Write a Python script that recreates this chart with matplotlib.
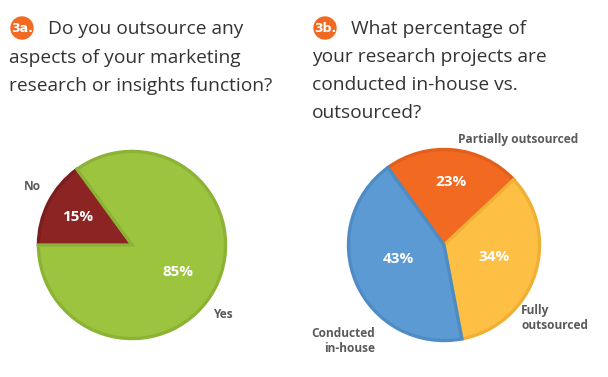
import matplotlib
matplotlib.use("Agg")
import matplotlib.pyplot as plt
from matplotlib.patches import Circle

W, H = 608, 377

# 3a: outsourcing any aspects
outsource_labels = ["No", "Yes"]
outsource_values = [15, 85]
outsource_colors = ["#8c2424", "#9dc43e"]
outsource_edges = ["#7a1e1e", "#8cb336"]

# 3b: in-house vs outsourced
share_labels = ["Partially outsourced", "Fully\noutsourced", "Conducted\nin-house"]
share_values = [23, 34, 43]
share_colors = ["#f26a22", "#fdc044", "#5b9ad3"]
share_edges = ["#e35f1c", "#f0b035", "#4f8cc6"]

TEXT = "#333333"
LABEL = "#5a5a5a"
BADGE = "#f26a22"
FONT = ["Open Sans", "DejaVu Sans"]

plt.rcParams["font.family"] = FONT

fig = plt.figure(figsize=(W / 100, H / 100), dpi=100)


def fx(px):
    return px / W


def fy(py):
    return 1 - py / H


def pie_axes(cx, cy, r):
    return fig.add_axes([fx(cx - r), fy(cy + r), 2 * r / W, 2 * r / H])


def finish(ax):
    # pie() resets the limits, so set them afterwards
    ax.set_xlim(-1, 1)
    ax.set_ylim(-1, 1)
    ax.set_aspect("equal")
    ax.axis("off")


def badge(x, y, text):
    fig.patches.append(Circle((x, H - y), 11, transform=None, color=BADGE,
                              figure=fig))
    fig.text(fx(x), fy(y), text, color="white", fontsize=9, fontweight="bold",
             ha="center", va="center", family=["Liberation Sans Narrow", "DejaVu Sans"])


# titles
title_kw = dict(fontsize=13.8, color=TEXT, va="center", ha="left")
badge(22, 28, "3a.")
fig.text(fx(48), fy(29), "Do you outsource any", **title_kw)
fig.text(fx(9), fy(58), "aspects of your marketing", **title_kw)
fig.text(fx(9), fy(86), "research or insights function?", **title_kw)

badge(325, 28, "3b.")
fig.text(fx(351), fy(29), "What percentage of", **title_kw)
fig.text(fx(312), fy(57), "your research projects are", **title_kw)
fig.text(fx(312), fy(85), "conducted in-house vs.", **title_kw)
fig.text(fx(312), fy(113), "outsourced?", **title_kw)

pct_kw = dict(color="white", fontsize=11, fontweight="bold", ha="center", va="center")
lab_kw = dict(color=LABEL, fontsize=8.6, fontweight="bold", va="center")


def to_data(px, py, cx, cy, r):
    return (px - cx) / r, (cy - py) / r


# left pie
cx1, cy1, r1 = 132, 245, 95
ax1 = pie_axes(cx1, cy1, r1)
wedges, _ = ax1.pie(outsource_values, colors=outsource_colors, startangle=180,
                    counterclock=False, radius=0.985,
                    wedgeprops=dict(linewidth=2.4))
for w, ec in zip(wedges, outsource_edges):
    w.set_edgecolor(ec)
finish(ax1)

ax1.text(*to_data(78, 217, cx1, cy1, r1), f"{outsource_values[0]}%", **pct_kw)
ax1.text(*to_data(178, 272, cx1, cy1, r1), f"{outsource_values[1]}%", **pct_kw)
ax1.text(*to_data(32, 187, cx1, cy1, r1), outsource_labels[0], ha="center", **lab_kw)
ax1.text(*to_data(223, 315, cx1, cy1, r1), outsource_labels[1], ha="center", **lab_kw)

# right pie
cx2, cy2, r2 = 444, 245, 97
ax2 = pie_axes(cx2, cy2, r2)
wedges, _ = ax2.pie(share_values, colors=share_colors, startangle=126,
                    counterclock=False, radius=0.985,
                    wedgeprops=dict(linewidth=2.4))
for w, ec in zip(wedges, share_edges):
    w.set_edgecolor(ec)
finish(ax2)

ax2.text(*to_data(451, 182, cx2, cy2, r2), f"{share_values[0]}%", **pct_kw)
ax2.text(*to_data(494, 257, cx2, cy2, r2), f"{share_values[1]}%", **pct_kw)
ax2.text(*to_data(398, 259, cx2, cy2, r2), f"{share_values[2]}%", **pct_kw)
ax2.text(*to_data(578, 140, cx2, cy2, r2), share_labels[0], ha="right", **lab_kw)
ax2.text(*to_data(521, 318, cx2, cy2, r2), share_labels[1], ha="left",
         linespacing=1.15, **lab_kw)
ax2.text(*to_data(375, 341, cx2, cy2, r2), share_labels[2], ha="right",
         multialignment="right", linespacing=1.15, **lab_kw)

fig.savefig("out.png", dpi=100)
